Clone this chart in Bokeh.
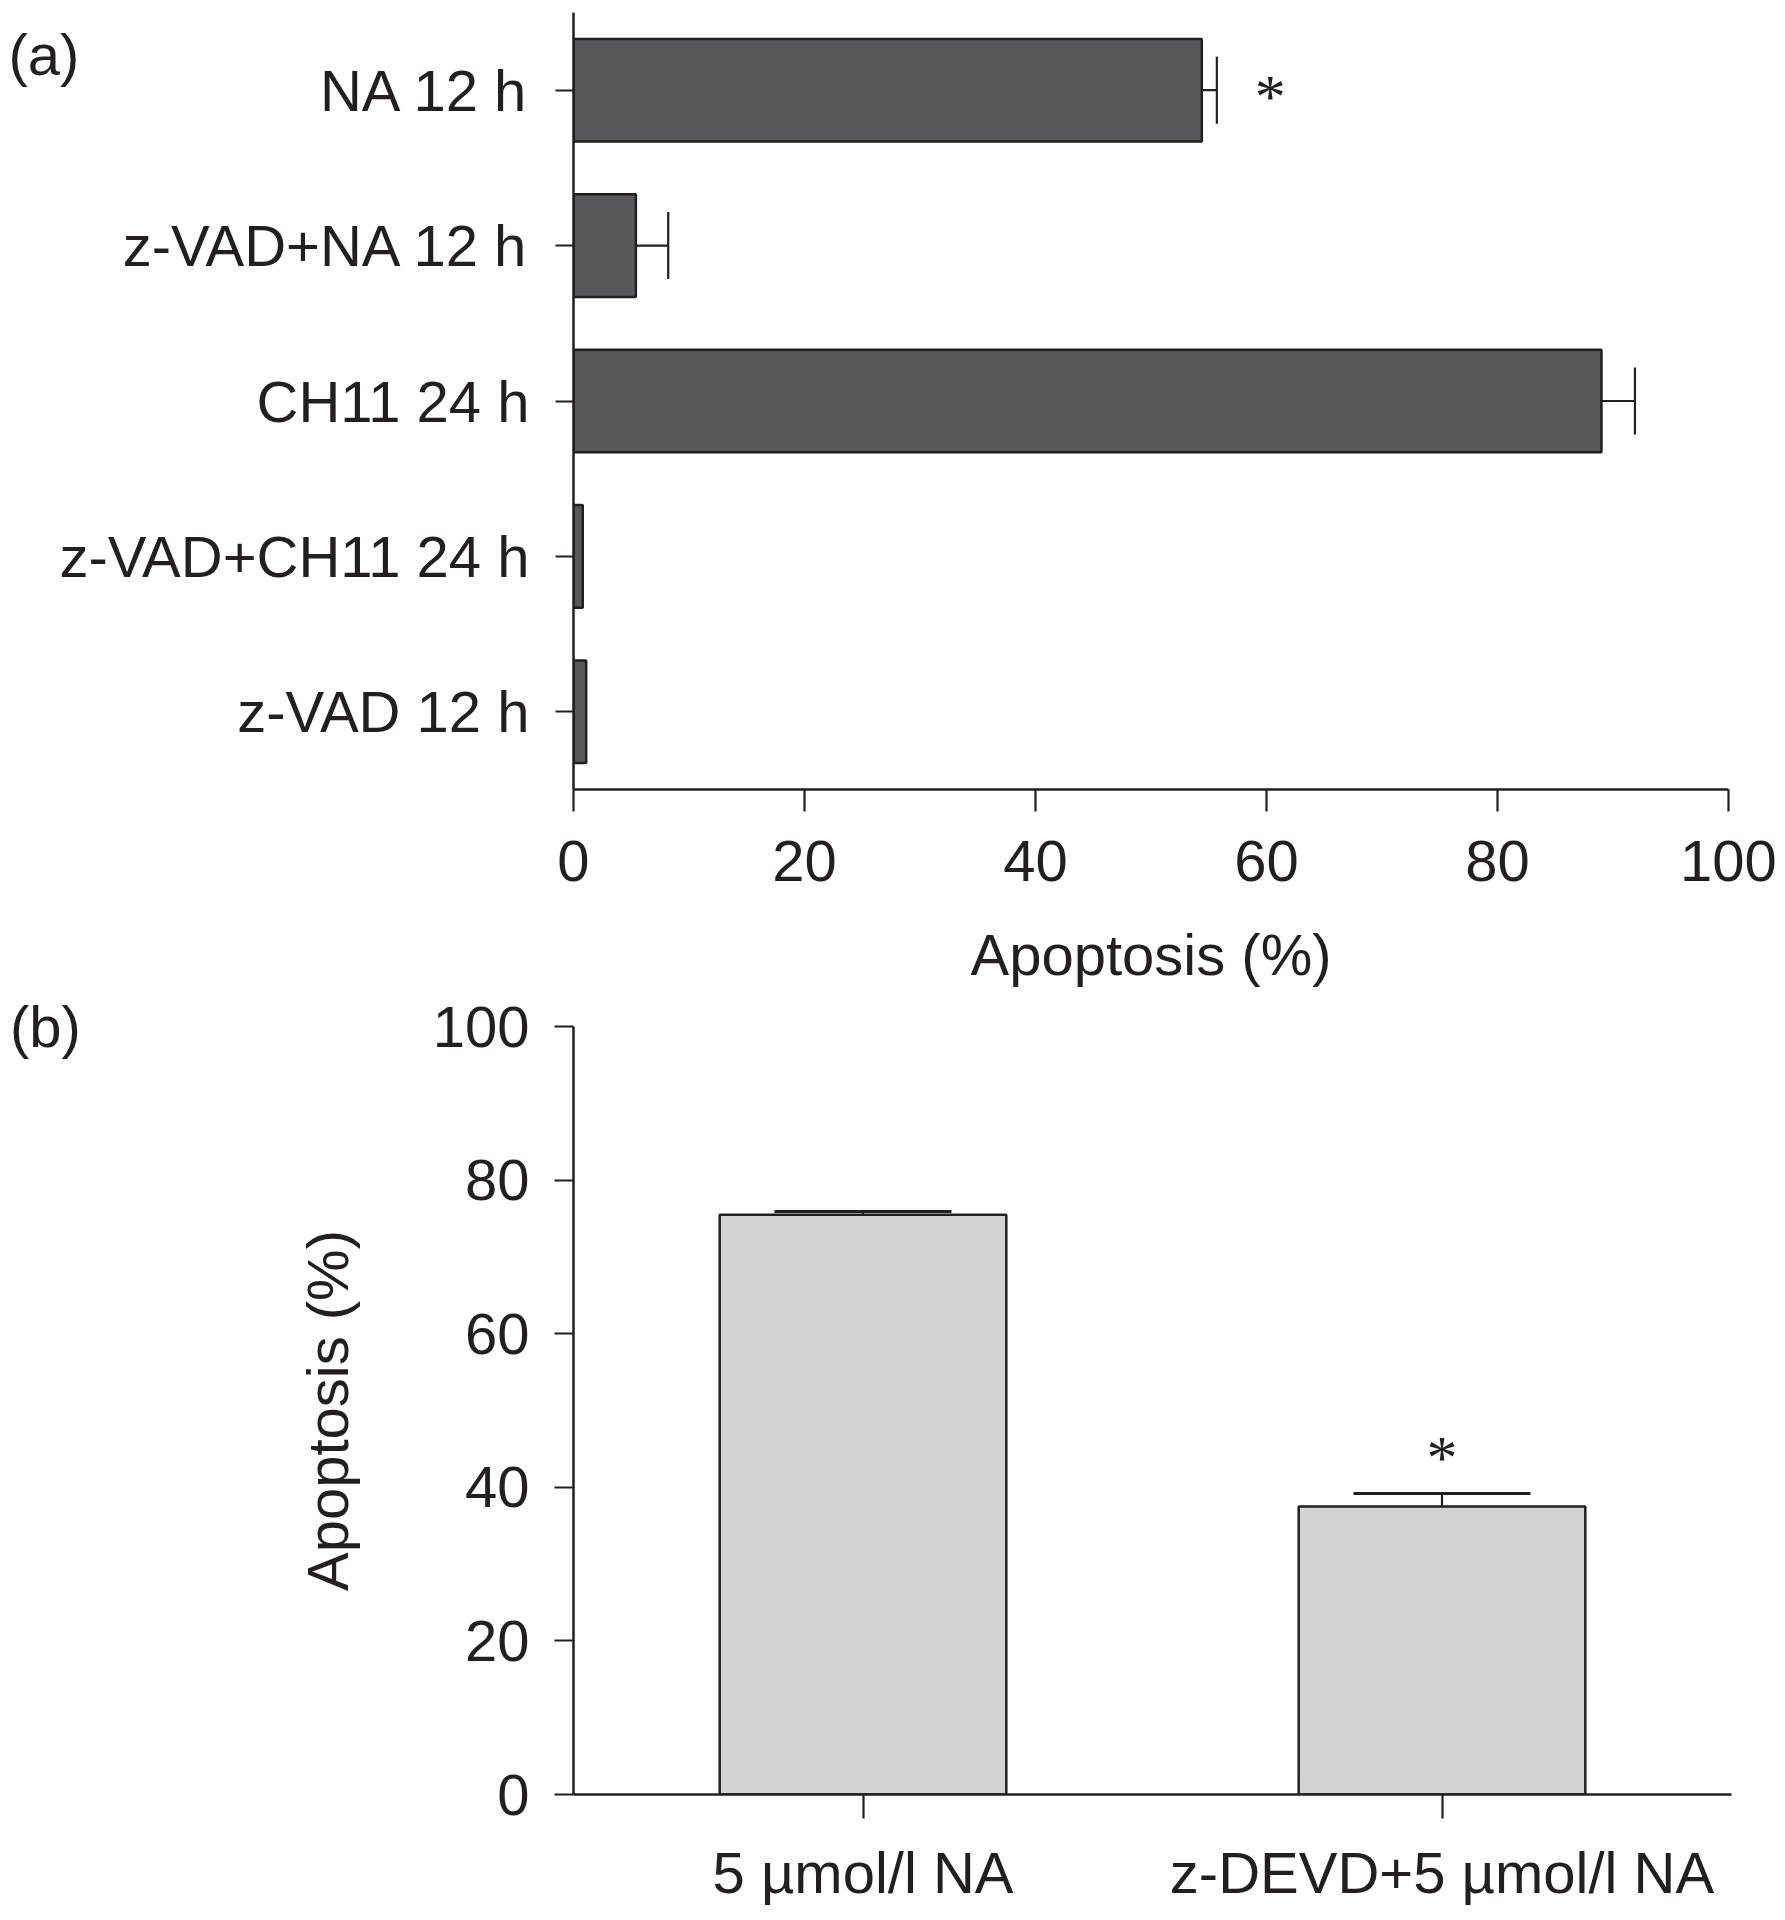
from bokeh.plotting import figure
from bokeh.models import (ColumnDataSource, FactorRange, Range1d, FixedTicker,
                          Whisker, TeeHead)
from bokeh.layouts import column
from bokeh.embed import file_html
from bokeh.resources import INLINE
from bokeh.core.properties import value

# ---------------- data ----------------
# Panel (a)
a_groups = ["NA 12 h", "z-VAD+NA 12 h", "CH11 24 h", "z-VAD+CH11 24 h", "z-VAD 12 h"]
a_mean = [54.4, 5.4, 89.0, 0.8, 1.1]
a_sem = [1.3, 2.8, 2.9, 0.0, 0.0]
a_signif = ["*", "", "", "", ""]
a_ticks = [0, 20, 40, 60, 80, 100]
a_xlabel = "Apoptosis (%)"
a_panel = "(a)"

# Panel (b)
b_groups = ["5 µmol/l NA", "z-DEVD+5 µmol/l NA"]
b_mean = [75.5, 37.5]
b_sem = [0.4, 1.7]
b_signif = ["", "*"]
b_ticks = [0, 20, 40, 60, 80, 100]
b_ylabel = "Apoptosis (%)"
b_panel = "(b)"

# ---------------- style ----------------
FONT = "Liberation Sans"
STAR_FONT = "Liberation Serif"
INK = "#231f20"
FS = "58px"
AXW = 2.5


def style_axes(p):
    p.outline_line_color = None
    p.xgrid.visible = False
    p.ygrid.visible = False
    p.background_fill_color = "white"
    p.border_fill_color = "white"
    for ax in p.axis:
        ax.axis_line_color = INK
        ax.axis_line_width = AXW
        ax.major_tick_line_color = INK
        ax.major_tick_line_width = 2.2
        ax.major_tick_in = 0
        ax.minor_tick_in = 0
        ax.minor_tick_out = 0
        ax.major_label_text_font = FONT
        ax.major_label_text_font_size = FS
        ax.major_label_text_color = INK
        ax.axis_label_text_font = FONT
        ax.axis_label_text_font_size = FS
        ax.axis_label_text_font_style = "normal"
        ax.axis_label_text_color = INK


# ---------------- panel (a) ----------------
pa = figure(y_range=FactorRange(factors=list(reversed(a_groups)), range_padding=0),
            x_range=Range1d(0, 100),
            frame_width=1155, frame_height=777,
            min_border_left=573, min_border_right=50,
            min_border_top=12, min_border_bottom=201,
            output_backend="svg", toolbar_location=None)
style_axes(pa)

src_a = ColumnDataSource(dict(group=a_groups, mean=a_mean,
                              upper=[m + s for m, s in zip(a_mean, a_sem)],
                              sig=a_signif))
pa.hbar(y="group", left=0, right="mean", height=0.66, source=src_a,
        fill_color="#58585a", line_color=INK, line_width=2.5)

err_a = ColumnDataSource(dict(
    group=[g for g, s in zip(a_groups, a_sem) if s > 0],
    lower=[m for m, s in zip(a_mean, a_sem) if s > 0],
    upper=[m + s for m, s in zip(a_mean, a_sem) if s > 0]))
pa.add_layout(Whisker(source=err_a, base="group", lower="lower", upper="upper",
                      dimension="width", line_color=INK, line_width=2.2,
                      upper_head=TeeHead(size=67, line_color=INK, line_width=2.2),
                      lower_head=None, level="overlay"))

pa.text(x="upper", y="group", text="sig", source=src_a,
        x_offset=38, y_offset=6, text_align="left", text_baseline="middle",
        text_font=value(STAR_FONT), text_font_size="62px", text_color=INK)

pa.xaxis.ticker = FixedTicker(ticks=a_ticks)
pa.xaxis.axis_label = a_xlabel
pa.xaxis.major_tick_out = 22
pa.xaxis.major_label_standoff = 29
pa.xaxis.axis_label_standoff = 38
pa.yaxis.major_tick_out = 18
pa.yaxis.major_label_standoff = 26

# panel letter (unclipped overlay text)
pa.text(x=[0], y=[a_groups[0]], text=[a_panel], x_offset=-565, y_offset=-36,
        text_align="left", text_baseline="middle", text_font=value(FONT),
        text_font_size=FS, text_color=INK, level="overlay")

# ---------------- panel (b) ----------------
pb = figure(x_range=FactorRange(factors=b_groups, range_padding=0),
            y_range=Range1d(0, 100),
            frame_width=1158, frame_height=768,
            min_border_left=570, min_border_right=50,
            min_border_top=36, min_border_bottom=105,
            output_backend="svg", toolbar_location=None)
style_axes(pb)

src_b = ColumnDataSource(dict(group=b_groups, mean=b_mean,
                              upper=[m + s for m, s in zip(b_mean, b_sem)],
                              sig=b_signif))
pb.vbar(x="group", bottom=0, top="mean", width=0.495, source=src_b,
        fill_color="#d1d3d2", line_color=INK, line_width=2.5)

pb.add_layout(Whisker(source=src_b, base="group", lower="mean", upper="upper",
                      dimension="height", line_color=INK, line_width=2.2,
                      upper_head=TeeHead(size=177, line_color=INK, line_width=3),
                      lower_head=None, level="overlay"))

pb.text(x="group", y="upper", text="sig", source=src_b,
        y_offset=-36, text_align="center", text_baseline="middle",
        text_font=value(STAR_FONT), text_font_size="62px", text_color=INK)

pb.yaxis.ticker = FixedTicker(ticks=b_ticks)
pb.yaxis.axis_label = b_ylabel
pb.yaxis.major_tick_out = 19
pb.yaxis.major_label_standoff = 25
pb.yaxis.axis_label_standoff = 70
pb.xaxis.major_tick_out = 24
pb.xaxis.major_label_standoff = 21
pb.xaxis.major_label_orientation = "horizontal"

pb.text(x=[b_groups[0]], y=[b_ticks[-1]], text=[b_panel], x_offset=-853, y_offset=0,
        text_align="left", text_baseline="middle", text_font=value(FONT),
        text_font_size=FS, text_color=INK, level="overlay")

layout = column(pa, pb, spacing=0)
open("out.html", "w").write(file_html(layout, INLINE))
